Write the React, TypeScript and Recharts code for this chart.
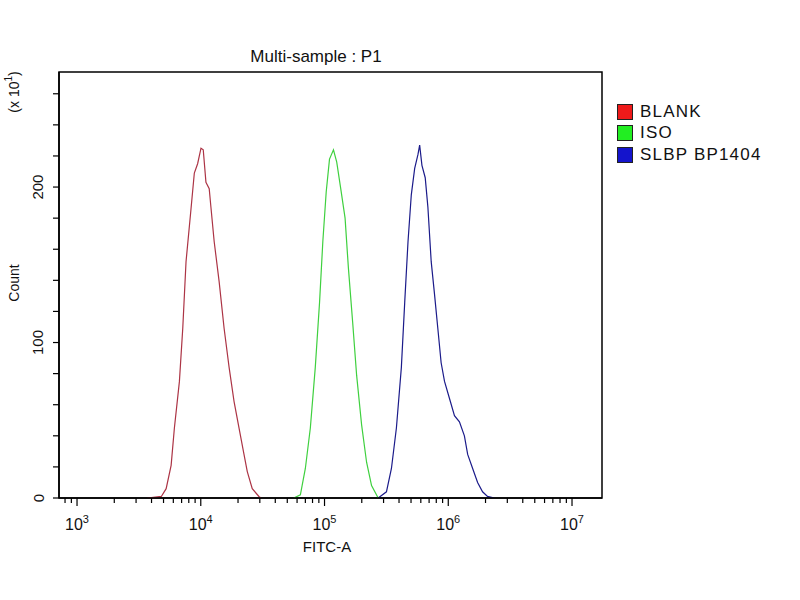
import { LineChart, Line, XAxis, YAxis, ReferenceArea } from 'recharts'

const SERIES_NAMES = ['BLANK', 'ISO', 'SLBP BP1404']
const LINE_COLORS = ['#ac3445', '#3fd03f', '#1b1b8a']
const SWATCH_COLORS = ['#ee1a1a', '#22ee22', '#1414cc']

// FITC-A intensity and event count
const BLANK_FITC = [3700, 4800, 5250, 5760, 6120, 6720, 7150, 7600, 8340, 8870, 9430, 10040, 10470, 11010, 11700, 12080, 12830, 14080, 15440, 16940, 18580, 20380, 22350, 23760, 26060, 29500, 30600]
const BLANK_COUNT = [0, 1, 6, 21, 45, 75, 109, 152, 186, 209, 215, 225, 224, 203, 199, 187, 165, 139, 109, 84, 62, 45, 28, 17, 6, 1, 0]

const ISO_FITC = [56400, 63800, 70000, 76800, 84200, 91200, 96900, 103200, 109700, 118100, 125500, 135200, 146600, 155900, 168800, 181700, 199400, 218700, 239900, 271500]
const ISO_COUNT = [0, 2, 19, 45, 84, 126, 165, 197, 218, 224, 216, 199, 180, 148, 113, 79, 47, 23, 8, 0]

const SLBP_FITC = [271500, 316500, 347300, 380900, 417800, 444800, 472900, 502600, 535300, 569200, 587200, 612600, 651200, 684500, 727900, 774400, 823500, 875700, 932700, 1023000, 1122000, 1231000, 1350000, 1435000, 1574000, 1726000, 1893000, 2076000, 2361000]
const SLBP_COUNT = [0, 4, 19, 45, 84, 126, 165, 195, 212, 221, 227, 214, 206, 187, 152, 131, 109, 87, 75, 64, 53, 49, 40, 28, 19, 10, 4, 1, 0]

const X_MAJOR = [1e3, 1e4, 1e5, 1e6, 1e7]
const X_EXPONENTS = ['3', '4', '5', '6', '7']
const X_MINOR_MANTISSA = [2, 3, 4, 5, 6, 7, 8, 9]
const X_DOMAIN = [715, 17470000]
const Y_TICKS = [0, 20, 40, 60, 80, 100, 120, 140, 160, 180, 200, 220, 240, 260]
const Y_LABELED = [0, 100, 200]
const Y_DOMAIN = [0, 274]

const FONT = '"Liberation Sans", Arial, sans-serif'

const toRows = (xs: number[], ys: number[]) => xs.map((fitc, i) => ({ fitc, count: ys[i] }))
const SERIES_DATA = [
  toRows(BLANK_FITC, BLANK_COUNT),
  toRows(ISO_FITC, ISO_COUNT),
  toRows(SLBP_FITC, SLBP_COUNT),
]

// major + minor ticks on the log axis
const xTicks: number[] = []
for (const m of [8, 9]) xTicks.push(m * 100)
for (const decade of X_MAJOR) {
  xTicks.push(decade)
  if (decade < 1e7) X_MINOR_MANTISSA.forEach((m) => xTicks.push(m * decade))
}

function XTick(props: any) {
  const { x, y, payload } = props
  const idx = X_MAJOR.indexOf(payload.value)
  const major = idx >= 0
  return (
    <g>
      <line x1={x} x2={x} y1={y} y2={y + (major ? 8 : 5)} stroke="#000" strokeWidth={1.2} />
      {major && (
        <text x={x} y={y + 32} textAnchor="middle" fontSize={16} fontFamily={FONT} fill="#111">
          10
          <tspan fontSize={11} dy={-7}>
            {X_EXPONENTS[idx]}
          </tspan>
        </text>
      )}
    </g>
  )
}

function YTick(props: any) {
  const { x, y, payload } = props
  if (!Y_LABELED.includes(payload.value)) return <g />
  const cx = x - 13
  return (
    <text
      x={cx}
      y={y}
      transform={`rotate(-90, ${cx}, ${y})`}
      textAnchor="middle"
      dominantBaseline="central"
      fontSize={15}
      fontFamily={FONT}
      fill="#111"
    >
      {payload.value}
    </text>
  )
}

export default function App() {
  return (
    <div style={{ position: 'absolute', left: 0, top: 0, width: 800, height: 600, background: '#fff' }}>
      <LineChart width={800} height={600} margin={{ top: 72, right: 198, left: 9, bottom: 62 }}>
        <XAxis
          dataKey="fitc"
          type="number"
          scale="log"
          domain={X_DOMAIN}
          allowDataOverflow
          ticks={xTicks}
          interval={0}
          tickSize={0}
          tickMargin={0}
          tickLine={false}
          tick={<XTick />}
          height={40}
          axisLine={{ stroke: '#000', strokeWidth: 1.5 }}
        />
        <YAxis
          type="number"
          domain={Y_DOMAIN}
          allowDataOverflow
          ticks={Y_TICKS}
          interval={0}
          width={50}
          tickSize={6}
          tickMargin={2}
          tickLine={{ stroke: '#000', strokeWidth: 1.2 }}
          tick={<YTick />}
          axisLine={{ stroke: '#000', strokeWidth: 1.5 }}
        />
        <ReferenceArea
          x1={X_DOMAIN[0]}
          x2={X_DOMAIN[1]}
          y1={Y_DOMAIN[0]}
          y2={Y_DOMAIN[1]}
          fill="none"
          stroke="#000"
          strokeWidth={1.5}
        />
        {SERIES_NAMES.map((name, i) => (
          <Line
            key={name}
            name={name}
            data={SERIES_DATA[i]}
            dataKey="count"
            type="linear"
            stroke={LINE_COLORS[i]}
            strokeWidth={1.2}
            dot={false}
            isAnimationActive={false}
          />
        ))}
        <text x={316} y={62} textAnchor="middle" fontSize={17} fontFamily={FONT} fill="#111">
          Multi-sample : P1
        </text>
        <text x={327} y={552} textAnchor="middle" fontSize={15} fontFamily={FONT} fill="#111">
          FITC-A
        </text>
        <text
          x={14}
          y={283}
          transform="rotate(-90, 14, 283)"
          textAnchor="middle"
          dominantBaseline="central"
          fontSize={14}
          fontFamily={FONT}
          fill="#111"
        >
          Count
        </text>
        <text
          x={14}
          y={92}
          transform="rotate(-90, 14, 92)"
          textAnchor="middle"
          dominantBaseline="central"
          fontSize={14}
          fontFamily={FONT}
          fill="#111"
        >
          (x 10
          <tspan fontSize={10} dy={-6}>1</tspan>
          <tspan dy={6}>)</tspan>
        </text>
      </LineChart>
      <div style={{ position: 'absolute', left: 617, top: 101, fontFamily: FONT, fontSize: 17, color: '#111' }}>
        {SERIES_NAMES.map((name, i) => (
          <div key={name} style={{ display: 'flex', alignItems: 'center', height: 21.5 }}>
            <span
              style={{
                display: 'inline-block',
                width: 16,
                height: 16,
                background: SWATCH_COLORS[i],
                border: '1px solid #222',
                boxSizing: 'border-box',
                marginRight: 7,
              }}
            />
            <span style={{ letterSpacing: 1.2 }}>{name}</span>
          </div>
        ))}
      </div>
    </div>
  )
}
